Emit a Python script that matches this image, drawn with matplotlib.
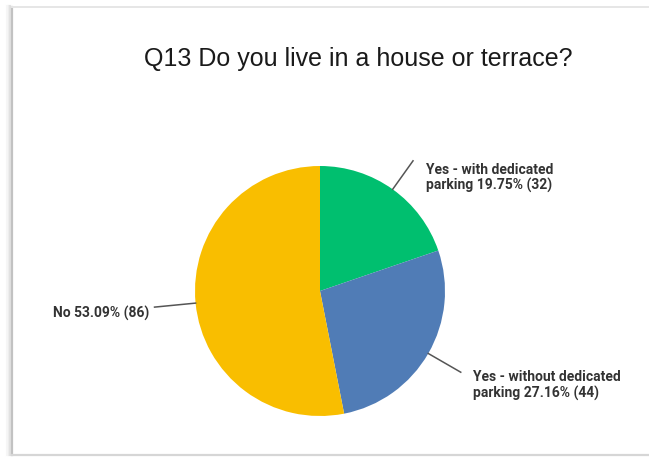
import numpy as np
import matplotlib.pyplot as plt

title = "Q13 Do you live in a house or terrace?"
labels = ["Yes - with dedicated\nparking", "Yes - without dedicated\nparking", "No"]
percents = [19.75, 27.16, 53.09]
counts = [32, 44, 86]
colors = ["#00BF6F", "#507CB6", "#F9BE00"]

W, H = 649, 457
fig = plt.figure(figsize=(W / 100, H / 100), dpi=100)
ax = fig.add_axes([0, 0, 1, 1])

# screenshot frame: soft shadow on the left, thin grey lines top/bottom
for x, c in [(6.5, "#f6f6f6"), (8.5, "#eeeeee"), (10, "#e2e2e2")]:
    ax.plot([x, x], [2, H - 6], color=c, lw=1.5, zorder=0)
ax.plot([11.5, 11.5], [2, H - 7], color="#c2c2c2", lw=1.6, zorder=1)
ax.plot([11.5, W], [H - 7, H - 7], color="#e6e6e6", lw=1.4, zorder=1)
ax.plot([11.5, W], [2.5, 2.5], color="#d6d6d6", lw=1.6, zorder=1)

cx, cy, r = 320, H - 291, 125
wedges, _ = ax.pie(percents, colors=colors, startangle=90, counterclock=False,
                   center=(cx, cy), radius=r, frame=True)
ax.set_xlim(0, W)
ax.set_ylim(0, H)
ax.set_aspect("equal")
ax.axis("off")

ax.text(358, H - 66, title, fontsize=18, family="Liberation Sans",
        color="#1a1a1a", ha="center", va="baseline")

# leader lines + labels
offsets = [(1.28, 13, -2, "left", "top"),
           (1.30, 12, 2, "left", "top"),
           (1.33, -5, -6, "right", "center")]
for w, lab, p, n, (k, dx, dy, ha, va) in zip(wedges, labels, percents, counts, offsets):
    ang = np.deg2rad((w.theta1 + w.theta2) / 2)
    x0, y0 = cx + r * np.cos(ang), cy + r * np.sin(ang)
    x1, y1 = cx + k * r * np.cos(ang), cy + k * r * np.sin(ang)
    ax.plot([x0, x1], [y0, y1], color="#555555", lw=1.1)
    ax.text(x1 + dx, y1 + dy, f"{lab} {p:.2f}% ({n})", fontsize=10,
            family="Roboto", fontweight="bold", color="#333333",
            ha=ha, va=va, linespacing=1.12)

fig.savefig("out.png", dpi=100)
